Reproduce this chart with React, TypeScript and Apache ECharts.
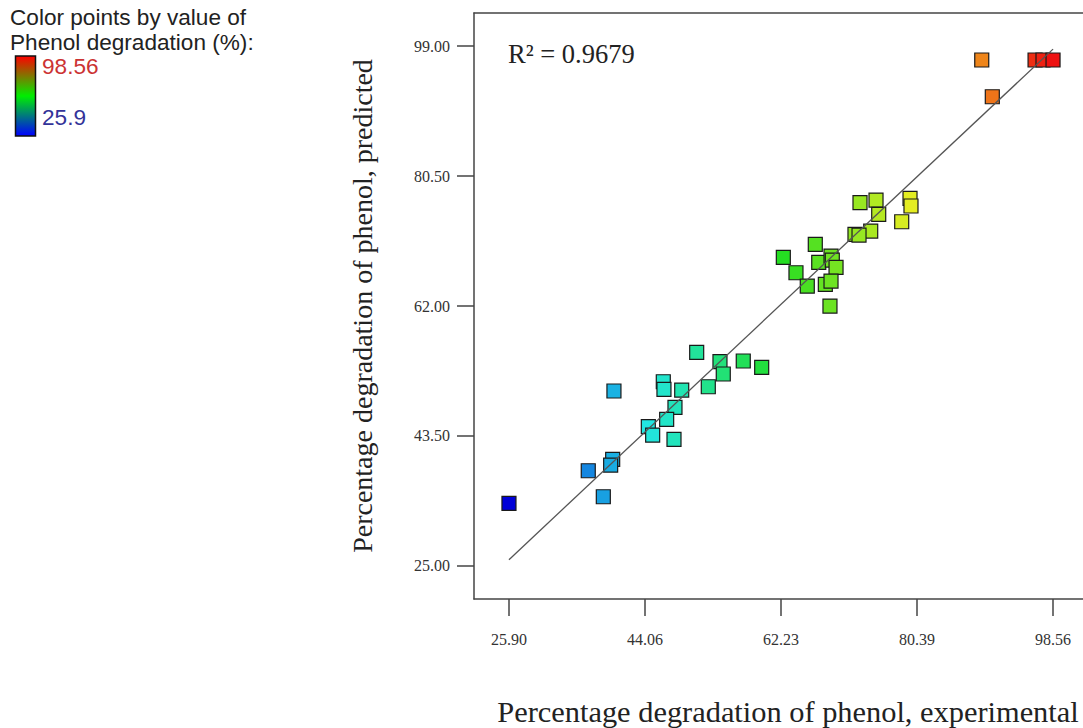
import React, { useEffect, useRef } from "react";
import * as echarts from "echarts";

// Experimental vs predicted phenol degradation (%)
const experimental = [
  25.9, 36.49, 39.75, 39.48, 38.5,
  50.97, 54.08, 57.19, 59.65, 54.52, 52.52, 48.97, 46.51, 46.6, 39.92, 48.07, 46.96, 44.51, 45.09, 47.94,
  72.78, 74.92, 75.28, 79.46, 79.59, 78.35, 74.21, 72.11, 72.65, 66.81, 62.54, 67.27, 68.91, 69.08, 69.58,
  64.23, 65.74, 68.15, 68.91, 68.77,
  89.04, 90.45, 96.16, 97.22, 98.56,
];
const predicted = [
  33.91, 38.55, 40.18, 39.36, 34.85,
  55.4, 54.07, 54.17, 53.27, 52.32, 50.51, 50.04, 51.22, 50.14, 49.9, 47.58, 45.87, 44.82, 43.63, 43.02,
  76.7, 77.08, 75.05, 77.32, 76.23, 73.99, 72.67, 72.2, 72.1, 70.78, 68.93, 68.21, 69.11, 68.54, 67.5,
  66.73, 64.84, 65.08, 65.55, 61.99,
  97.01, 91.78, 97.01, 97.01, 97.01,
];
const xTicks = [25.9, 44.06, 62.23, 80.39, 98.56];
const yTicks = [25.0, 43.5, 62.0, 80.5, 99.0];
const fitLine = [
  [25.9, 25.9],
  [98.56, 98.56],
];
const colorMin = 25.9;
const colorMax = 98.56;
const colorStops = ["#0000d8", "#22e6e6", "#22dd22", "#eeee22", "#ee1111"];
const r2Label = "R\u00B2 = 0.9679";
const legendTitle = ["Color points by value of", "Phenol degradation (%):"];
const xTitle = "Percentage degradation of phenol, experimental";
const yTitle = "Percentage degradation of phenol, predicted";

export default function App() {
  const ref = useRef<HTMLDivElement>(null);
  useEffect(() => {
    const chart = echarts.init(ref.current!, null, { renderer: "svg" });
    const serif = "'Liberation Serif', 'Times New Roman', serif";
    const sans = "'Liberation Sans', Arial, sans-serif";
    const axisCol = "#444";
    const xMin = 21.23;
    const xMax = 103.23;
    chart.setOption({
      animation: false,
      backgroundColor: "#fff",
      grid: {
        left: 474,
        top: 13,
        width: 614,
        height: 586,
        containLabel: false,
        outerBoundsMode: "none",
        show: false,
      },
      xAxis: [
        {
          type: "value",
          min: xMin,
          max: xMax,
          splitLine: { show: false },
          axisLine: { show: true, onZero: false, lineStyle: { color: axisCol, width: 1.5 } },
          axisTick: {
            show: true,
            inside: false,
            length: 17,
            customValues: xTicks,
            lineStyle: { color: axisCol, width: 1.5 },
          },
          axisLabel: {
            customValues: xTicks,
            formatter: (v: number) => v.toFixed(2),
            fontFamily: serif,
            fontSize: 16,
            color: "#333",
            margin: 32,
          },
          name: xTitle,
          nameLocation: "middle",
          nameGap: 98,
          nameTextStyle: {
            fontFamily: serif,
            fontSize: 30.4,
            color: "#222",
            padding: [0, 0, 0, 14],
          },
        },
        {
          type: "value",
          position: "top",
          min: xMin,
          max: xMax,
          splitLine: { show: false },
          axisLine: { show: true, onZero: false, lineStyle: { color: axisCol, width: 1.5 } },
          axisTick: { show: false },
          axisLabel: { show: false },
        },
      ],
      yAxis: {
        type: "value",
        min: 20.3,
        max: 103.7,
        splitLine: { show: false },
        axisLine: { show: true, onZero: false, lineStyle: { color: axisCol, width: 1.5 } },
        axisTick: {
          show: true,
          inside: false,
          length: 17,
          customValues: yTicks,
          lineStyle: { color: axisCol, width: 1.5 },
        },
        axisLabel: {
          customValues: yTicks,
          formatter: (v: number) => v.toFixed(2),
          fontFamily: serif,
          fontSize: 16,
          color: "#333",
          margin: 24,
        },
        name: yTitle,
        nameLocation: "middle",
        nameGap: 98,
        nameTextStyle: { fontFamily: serif, fontSize: 28, color: "#222" },
      },
      visualMap: {
        type: "continuous",
        show: false,
        dimension: 0,
        min: colorMin,
        max: colorMax,
        seriesIndex: 0,
        inRange: { color: colorStops },
      },
      series: [
        {
          type: "scatter",
          data: experimental.map((x, i) => [x, predicted[i]]),
          symbol: "rect",
          symbolSize: 14,
          itemStyle: { borderColor: "#1a1a1a", borderWidth: 1.2, opacity: 1 },
          z: 2,
        },
        {
          type: "line",
          data: fitLine,
          symbol: "none",
          silent: true,
          lineStyle: { color: "#555", width: 1.3 },
          z: 3,
        },
      ],
      graphic: [
        {
          type: "text",
          left: 10,
          top: 6,
          style: { text: legendTitle[0], font: `22.6px ${sans}`, fill: "#222" },
        },
        {
          type: "text",
          left: 10,
          top: 31,
          style: { text: legendTitle[1], font: `22.6px ${sans}`, fill: "#222" },
        },
        {
          type: "rect",
          shape: { x: 15.5, y: 56, width: 20, height: 80 },
          style: {
            fill: new echarts.graphic.LinearGradient(0, 0, 0, 1, [
              { offset: 0, color: "#ff0000" },
              { offset: 0.5, color: "#00ee00" },
              { offset: 1, color: "#0000ff" },
            ]),
            stroke: "#111",
            lineWidth: 1.5,
          },
        },
        {
          type: "text",
          left: 42,
          top: 55,
          style: { text: colorMax.toFixed(2), font: `22.6px ${sans}`, fill: "#cc3333" },
        },
        {
          type: "text",
          left: 42,
          top: 106,
          style: { text: String(colorMin), font: `22.6px ${sans}`, fill: "#333399" },
        },
        {
          type: "text",
          left: 508,
          top: 40,
          style: { text: r2Label, font: `26.5px ${serif}`, fill: "#222" },
        },
      ],
    });
    return () => chart.dispose();
  }, []);
  return (
    <div
      style={{
        position: "fixed",
        left: 0,
        top: 0,
        width: 1083,
        height: 728,
        overflow: "hidden",
      }}
    >
      <div ref={ref} style={{ width: 1092, height: 728 }} />
    </div>
  );
}
